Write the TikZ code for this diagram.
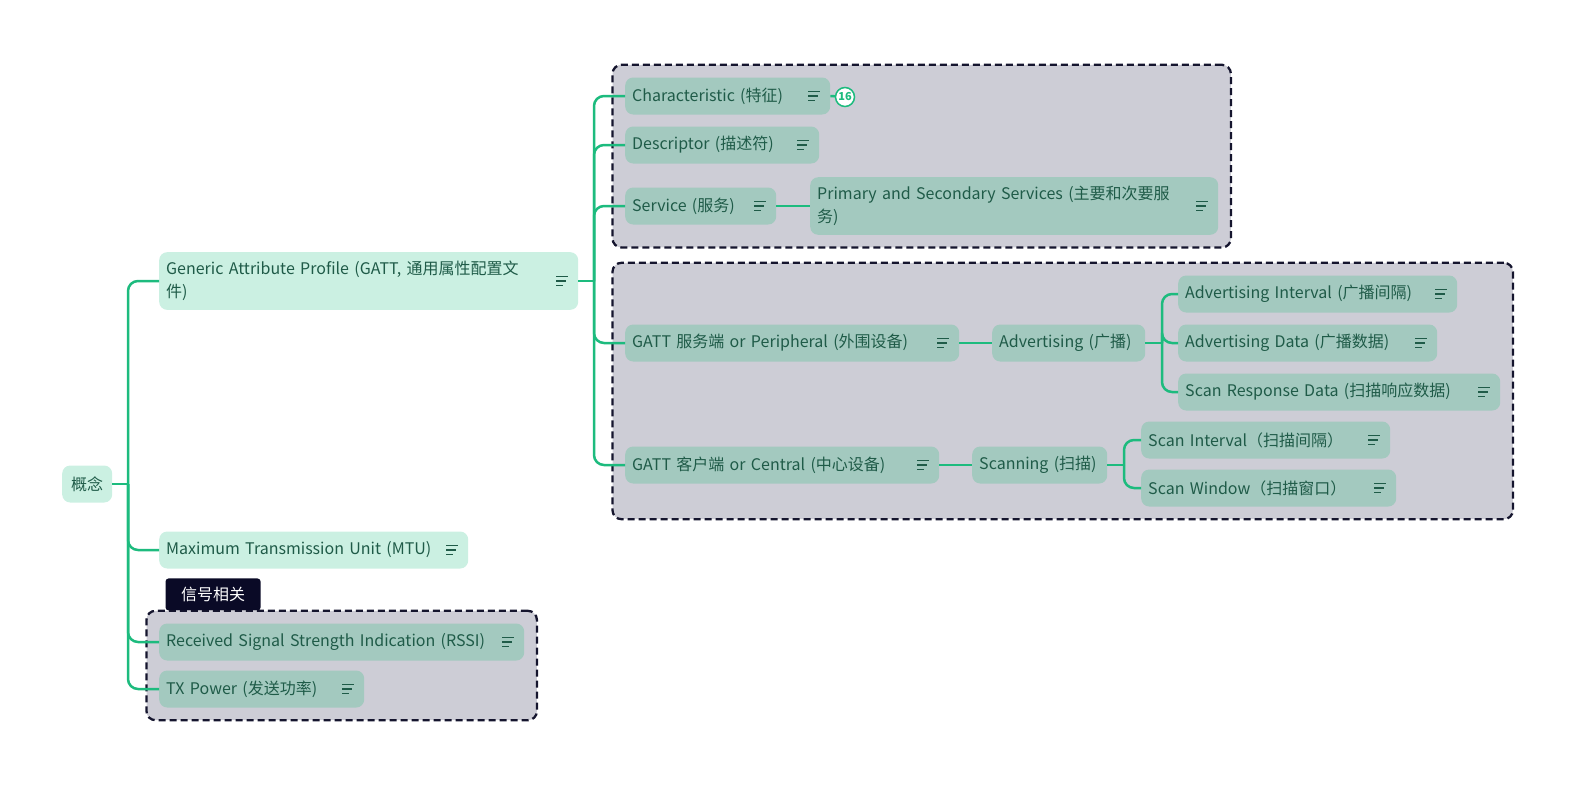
\documentclass[tikz,border=0pt]{standalone}
\usepackage{fontspec}
\setmainfont{Noto Sans CJK SC}
\usepackage{tikz}
\usetikzlibrary{positioning,fit,backgrounds}
\definecolor{mint}{HTML}{CBF0E2}
\definecolor{sage}{HTML}{A3C9BF}
\definecolor{groupbg}{HTML}{CDCDD6}
\definecolor{groupline}{HTML}{15152E}
\definecolor{linkgreen}{HTML}{1DBB7E}
\definecolor{ink}{HTML}{1F5B48}
\definecolor{tagbg}{HTML}{0A0A26}
\tikzset{
  topic/.style    = {rectangle, rounded corners=8pt, fill=mint, text=ink,
                     anchor=west, align=left, inner xsep=7pt, inner ysep=9pt,
                     minimum height=37pt, font=\fontsize{16}{23}\selectfont},
  subtopic/.style = {topic, fill=sage},
  grp/.style      = {rectangle, draw=groupline, fill=groupbg, line width=2.3pt,
                     dash pattern=on 7pt off 4pt, rounded corners=9pt,
                     inner sep=12.5pt},
  link/.style     = {draw=linkgreen, line width=2.5pt, rounded corners=10pt},
  noteicon/.style = {draw=ink, line width=1.6pt},
  tag/.style      = {rectangle, fill=tagbg, text=white, rounded corners=3pt,
                     minimum width=95pt, minimum height=32pt, inner sep=0pt,
                     font=\fontsize{16}{18}\selectfont},
  badge/.style    = {circle, draw=linkgreen, fill=white, line width=1.5pt,
                     text=linkgreen, inner sep=0pt, minimum size=19pt,
                     font=\fontsize{11}{11}\selectfont\bfseries}
}
\begin{document}
\begin{tikzpicture}[x=1pt, y=-1pt]
\useasboundingbox (0,0) rectangle (1578,785);
% root and first level
\node[topic, text width=36pt, align=center] (root) at (62,484) {概念};
\node[topic, text width=405pt] (gatt) at (159,281)
  {Generic Attribute Profile (GATT, 通用属性配置文\\件)};
\node[topic, text width=295pt] (mtu) at (159,550) {Maximum Transmission Unit (MTU)};
\node[subtopic, text width=351pt] (rssi) at (159,642)
  {Received Signal Strength Indication (RSSI)};
\node[subtopic, text width=191pt] (txpow) at (159,689) {TX Power (发送功率)};
% GATT children
\node[subtopic, text width=191pt] (chr) at (625,96) {Characteristic (特征)};
\node[subtopic, text width=180pt] (desc) at (625,145) {Descriptor (描述符)};
\node[subtopic, text width=137pt] (svc) at (625,206) {Service (服务)};
\node[subtopic, text width=394pt] (prim) at (810,206)
  {Primary and Secondary Services (主要和次要服\\务)};
% peripheral side
\node[subtopic, text width=320pt] (srv) at (625,343) {GATT 服务端 or Peripheral (外围设备)};
\node[subtopic, text width=139pt] (adv) at (992,343) {Advertising (广播)};
\node[subtopic, text width=265pt] (advint) at (1178,294) {Advertising Interval (广播间隔)};
\node[subtopic, text width=245pt] (advdata) at (1178,343) {Advertising Data (广播数据)};
\node[subtopic, text width=308pt] (scanrsp) at (1178,392) {Scan Response Data (扫描响应数据)};
% central side
\node[subtopic, text width=300pt] (cli) at (625,465) {GATT 客户端 or Central (中心设备)};
\node[subtopic, text width=121pt] (scan) at (972,465) {Scanning (扫描)};
\node[subtopic, text width=235pt] (scanint) at (1141,440) {Scan Interval（扫描间隔）};
\node[subtopic, text width=241pt] (scanwin) at (1141,488) {Scan Window（扫描窗口）};
% note icons
\foreach \n in {gatt,mtu,rssi,txpow,chr,desc,svc,prim,srv,advint,advdata,scanrsp,cli,scanint,scanwin}
  \draw[noteicon] ([shift={(-22,-4.5)}]\n.east) -- +(12,0)
                  ([shift={(-22,0)}]\n.east) -- +(10,0)
                  ([shift={(-22,4.5)}]\n.east) -- +(7,0);
% count badge
\node[badge] (cnt) at (845,97) {16};
% groups
\begin{scope}[on background layer]
\node[grp, fit=(chr)(desc)(svc)(prim)] (grp1) {};
\node[grp, fit=(srv)(adv)(advint)(advdata)(scanrsp)(cli)(scan)(scanint)(scanwin)] (grp2) {};
\node[grp, fit=(rssi)(txpow)] (grp3) {};
\end{scope}
\node[tag, anchor=south west] (sig) at ([xshift=20pt,yshift=-1pt]grp3.north west) {信号相关};
% connectors
\draw[link] (root.east) -- (128,484);
\foreach \c in {gatt,mtu,rssi,txpow}
  \draw[link] (128,484) |- (\c.west);
\draw[link] (gatt.east) -- (594,281);
\foreach \c in {chr,desc,svc,srv,cli}
  \draw[link] (594,281) |- (\c.west);
\draw[link] (chr.east) -- (cnt);
\draw[link] (svc) -- (prim);
\draw[link] (srv) -- (adv);
\draw[link] (adv.east) -- (1162,343);
\foreach \c in {advint,advdata,scanrsp}
  \draw[link] (1162,343) |- (\c.west);
\draw[link] (cli) -- (scan);
\draw[link] (scan.east) -- (1124,465);
\foreach \c in {scanint,scanwin}
  \draw[link] (1124,465) |- (\c.west);
\end{tikzpicture}
\end{document}
